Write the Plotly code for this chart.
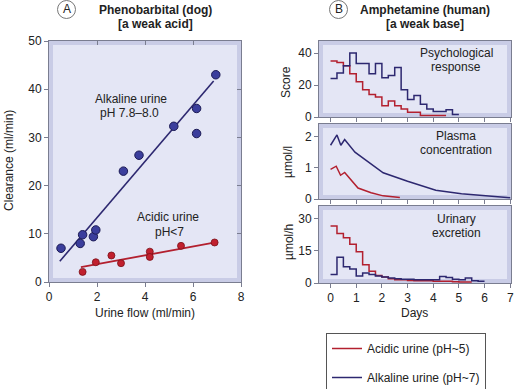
import plotly.graph_objects as go

# ---------------- data ----------------
# Panel A: phenobarbital clearance vs urine flow
alk_flow = [0.5, 1.3, 1.4, 1.85, 1.95, 3.1, 3.75, 5.2, 6.15, 6.15, 6.95]
alk_clear = [7.0, 8.0, 9.8, 9.4, 10.8, 23.0, 26.3, 32.3, 30.8, 36.0, 43.0]
alk_fit_x = [0.45, 6.86]
alk_fit_y = [4.3, 41.7]

acid_flow = [1.4, 1.95, 2.6, 3.0, 4.2, 4.2, 5.5, 6.9]
acid_clear = [2.1, 4.1, 5.5, 3.9, 6.3, 5.2, 7.5, 8.2]
acid_fit_x = [1.33, 6.93]
acid_fit_y = [3.1, 8.2]

# Panel B: amphetamine, step series on 6-hour bins (bin start times in days)
psych_t_acid = [0, 0.25, 0.5, 0.75, 1.0, 1.25, 1.5, 1.75, 2.0, 2.25, 2.5, 2.75,
                3.0, 3.25, 3.5, 3.75, 4.0, 4.25, 4.5]
psych_acid = [35, 34, 32, 27, 22, 17, 14, 12.5, 7, 10, 7, 5, 3, 3, 1, 1, 1, 1, 1]

psych_t_alk = [0, 0.25, 0.5, 0.75, 1.0, 1.25, 1.5, 1.75, 2.0, 2.25, 2.5, 2.75,
               3.0, 3.25, 3.5, 3.75, 4.0, 4.25, 4.5, 4.75, 5.0]
psych_alk = [24, 27.5, 32, 40, 33.5, 33.5, 27, 33.5, 24.5, 26, 31, 17, 11, 13.5,
             8, 5, 3.5, 3.5, 4.5, 1.5, 1.5]

plasma_t_alk = [0, 0.25, 0.4, 0.55, 0.95, 2.05, 3.0, 4.1, 5.1, 6.0, 7.0]
plasma_alk = [1.72, 2.05, 1.72, 1.9, 1.5, 0.84, 0.57, 0.28, 0.17, 0.11, 0.04]
plasma_t_acid = [0, 0.22, 0.39, 0.55, 1.07, 1.58, 2.05, 2.7]
plasma_acid = [0.95, 1.05, 0.76, 0.85, 0.35, 0.2, 0.1, 0.05]

urine_t_acid = [0, 0.25, 0.5, 0.75, 1.0, 1.25, 1.5, 1.75, 2.0, 2.25, 2.5, 2.75,
                3.0, 3.25, 3.5, 3.75, 4.0, 4.25, 4.5, 4.75, 5.0, 5.25, 5.5]
urine_acid = [26.5, 23, 21, 18, 14.5, 8.5, 5.5, 3.5, 2.8, 2, 1.5, 1.5, 1.2, 1,
              1, 1, 0.8, 0.8, 0.8, 0.6, 0.5, 0.5, 0.5]
urine_t_alk = [0, 0.25, 0.5, 0.75, 1.0, 1.25, 1.5, 1.75, 2.0, 2.25, 2.5, 2.75,
               3.0, 3.25, 3.5, 3.75, 4.0, 4.25, 4.5, 4.75, 5.0, 5.25, 5.5, 5.75, 6.0]
urine_alk = [4, 12, 7.5, 6.5, 3.3, 4.7, 4, 3.3, 2.8, 2.3, 2, 1.8, 1.8, 1.5, 1.5,
             1.5, 1.5, 3, 2.5, 1.8, 1.5, 2.3, 1, 0.8, 0.8]

a_xticks = [0, 2, 4, 6, 8]
a_yticks = [0, 10, 20, 30, 40, 50]
b_xticks = [0, 1, 2, 3, 4, 5, 6, 7]

# ---------------- style ----------------
W, H = 514, 389
FONT = "Liberation Sans, Arial, sans-serif"
TXT = "#222222"
RED = "#b3202f"
BLUE = "#2d2870"
BLUE_M = "#3b3e9c"
BAND = "#c9cce6"
INNER = "#e4e6f5"
FRAME = "#7a7d90"


def px_x(p):
    return p / W


def px_y(p):
    return 1 - p / H


# panel pixel boxes (left, top, right, bottom)
boxA = (49, 41, 241, 282)
boxB1 = (319, 41, 511, 117)
boxB2 = (319, 124, 511, 199)
boxB3 = (319, 206, 511, 283)

fig = go.Figure()

# Panel A traces
fig.add_trace(go.Scatter(x=alk_fit_x, y=alk_fit_y, mode="lines",
                         line=dict(color=BLUE, width=1.6), showlegend=False,
                         xaxis="x", yaxis="y"))
fig.add_trace(go.Scatter(x=acid_fit_x, y=acid_fit_y, mode="lines",
                         line=dict(color=RED, width=1.8), showlegend=False,
                         xaxis="x", yaxis="y"))
fig.add_trace(go.Scatter(x=alk_flow, y=alk_clear, mode="markers",
                         marker=dict(color=BLUE_M, size=8.5,
                                     line=dict(color="#1c1b55", width=1)),
                         showlegend=False, xaxis="x", yaxis="y"))
fig.add_trace(go.Scatter(x=acid_flow, y=acid_clear, mode="markers",
                         marker=dict(color="#c1202e", size=7,
                                     line=dict(color="#7a1018", width=0.8)),
                         showlegend=False, xaxis="x", yaxis="y"))

# Panel B traces
fig.add_trace(go.Scatter(x=psych_t_acid, y=psych_acid, mode="lines", line_shape="hv",
                         line=dict(color=RED, width=1.5), name="Acidic urine (pH~5)",
                         legendgroup="acid", legendrank=1, xaxis="x2", yaxis="y2"))
fig.add_trace(go.Scatter(x=psych_t_alk, y=psych_alk, mode="lines", line_shape="hv",
                         line=dict(color=BLUE, width=1.5), name="Alkaline urine (pH~7)",
                         legendgroup="alk", legendrank=2, xaxis="x2", yaxis="y2"))
fig.add_trace(go.Scatter(x=plasma_t_alk, y=plasma_alk, mode="lines",
                         line=dict(color=BLUE, width=1.5), showlegend=False,
                         xaxis="x3", yaxis="y3"))
fig.add_trace(go.Scatter(x=plasma_t_acid, y=plasma_acid, mode="lines",
                         line=dict(color=RED, width=1.5), showlegend=False,
                         xaxis="x3", yaxis="y3"))
fig.add_trace(go.Scatter(x=urine_t_acid, y=urine_acid, mode="lines", line_shape="hv",
                         line=dict(color=RED, width=1.5), showlegend=False,
                         xaxis="x4", yaxis="y4"))
fig.add_trace(go.Scatter(x=urine_t_alk, y=urine_alk, mode="lines", line_shape="hv",
                         line=dict(color=BLUE, width=1.5), showlegend=False,
                         xaxis="x4", yaxis="y4"))

# invisible trace to anchor mirrored inside-tick axes of panel A
fig.add_trace(go.Scatter(x=[None], y=[None], xaxis="x5", yaxis="y5",
                         showlegend=False, hoverinfo="skip"))

tickfont = dict(family=FONT, size=12, color=TXT)
common = dict(showgrid=False, zeroline=False, showline=True, linecolor=FRAME,
              linewidth=1, ticks="outside", ticklen=4, tickcolor=FRAME,
              tickfont=tickfont, mirror=True, automargin=False)


def dom(box):
    l, t, r, b = box
    return [px_x(l), px_x(r)], [px_y(b), px_y(t)]


xa, ya = dom(boxA)
x1, y1 = dom(boxB1)
_, y2 = dom(boxB2)
_, y3 = dom(boxB3)
brange = [-0.45, 7.03]

fig.update_layout(
    width=W, height=H,
    margin=dict(l=0, r=0, t=0, b=0, autoexpand=False),
    paper_bgcolor="white", plot_bgcolor=BAND,
    font=dict(family=FONT, size=12, color=TXT),
    xaxis=dict(domain=xa, anchor="y", range=[0, 8], tickvals=a_xticks, **common),
    yaxis=dict(domain=ya, anchor="x", range=[0, 50], tickvals=a_yticks, **common),
    xaxis5=dict(domain=xa, anchor="y5", overlaying="x", side="top", range=[0, 8],
                tickvals=a_xticks, ticks="inside", ticklen=4, tickcolor=FRAME,
                showticklabels=False, showgrid=False, zeroline=False, showline=False,
                automargin=False),
    yaxis5=dict(domain=ya, anchor="x5", overlaying="y", side="right", range=[0, 50],
                tickvals=a_yticks, ticks="inside", ticklen=4, tickcolor=FRAME,
                showticklabels=False, showgrid=False, zeroline=False, showline=False,
                automargin=False),
    xaxis2=dict(domain=x1, anchor="y2", range=brange, tickvals=b_xticks,
                showticklabels=False, **common),
    yaxis2=dict(domain=y1, anchor="x2", range=[0, 47.5], tickvals=[0, 20, 40], **common),
    xaxis3=dict(domain=x1, anchor="y3", range=brange, tickvals=b_xticks,
                showticklabels=False, **common),
    yaxis3=dict(domain=y2, anchor="x3", range=[0, 2.4], tickvals=[0, 1, 2], **common),
    xaxis4=dict(domain=x1, anchor="y4", range=brange, tickvals=b_xticks, **common),
    yaxis4=dict(domain=y3, anchor="x4", range=[0, 35.8], tickvals=[0, 15, 30], **common),
    legend=dict(x=px_x(326), y=px_y(333), xanchor="left", yanchor="top",
                bgcolor="white", bordercolor="#555555", borderwidth=1,
                font=dict(family=FONT, size=12, color=TXT), itemwidth=30,
                tracegroupgap=10, traceorder="grouped"),
)

# inner lighter panels (band effect)
shapes = []
inset = 4
for box, xr, yr in [(boxA, "x", "y"), (boxB1, "x2", "y2"),
                    (boxB2, "x3", "y3"), (boxB3, "x4", "y4")]:
    l, t, r, b = box
    w, h = r - l, b - t
    shapes.append(dict(type="rect", xref=f"{xr} domain", yref=f"{yr} domain",
                       x0=inset / w, x1=1 - inset / w, y0=inset / h, y1=1 - inset / h,
                       fillcolor=INNER, line=dict(width=0), layer="below"))

# panel letter circles
for cx, cy in [(66.5, 9.5), (338.5, 9.5)]:
    r = 9
    shapes.append(dict(type="circle", xref="paper", yref="paper",
                       x0=px_x(cx - r), x1=px_x(cx + r), y0=px_y(cy + r), y1=px_y(cy - r),
                       line=dict(color="#777777", width=1), fillcolor="white"))
fig.update_layout(shapes=shapes)


def ann(text, x, y, size=12, bold=False, angle=0):
    return dict(text=f"<b>{text}</b>" if bold else text, x=px_x(x), y=px_y(y),
                xref="paper", yref="paper", xanchor="center", yanchor="middle",
                showarrow=False, textangle=angle,
                font=dict(family=FONT, size=size, color=TXT))


annotations = [
    ann("A", 66.5, 9.5, 12),
    ann("B", 338.5, 9.5, 12),
    ann("Phenobarbital (dog)", 155, 10, 12, True),
    ann("[a weak acid]", 155, 24, 12, True),
    ann("Amphetamine (human)", 425, 10, 12, True),
    ann("[a weak base]", 425, 24, 12, True),
    ann("Alkaline urine", 131, 99),
    ann("pH 7.8–8.0", 129, 113),
    ann("Acidic urine", 168, 217),
    ann("pH<7", 169, 232),
    ann("Psychological", 456, 53),
    ann("response", 456, 67),
    ann("Plasma", 456, 136),
    ann("concentration", 456, 150),
    ann("Urinary", 456, 219),
    ann("excretion", 456, 233),
    ann("Clearance (ml/min)", 9, 161, angle=-90),
    ann("Urine flow (ml/min)", 145, 313),
    ann("Score", 286, 82, angle=-90),
    ann("µmol/l", 288, 162, angle=-90),
    ann("µmol/h", 289, 242, angle=-90),
    ann("Days", 414, 313),
]
fig.update_layout(annotations=annotations)

# remove the browser's default 8px page margin so the figure sits at (0, 0)
fig.write_html("out.html",
               config={"displayModeBar": False},
               post_script="document.body.style.margin='0px';document.body.style.overflow='hidden';")
